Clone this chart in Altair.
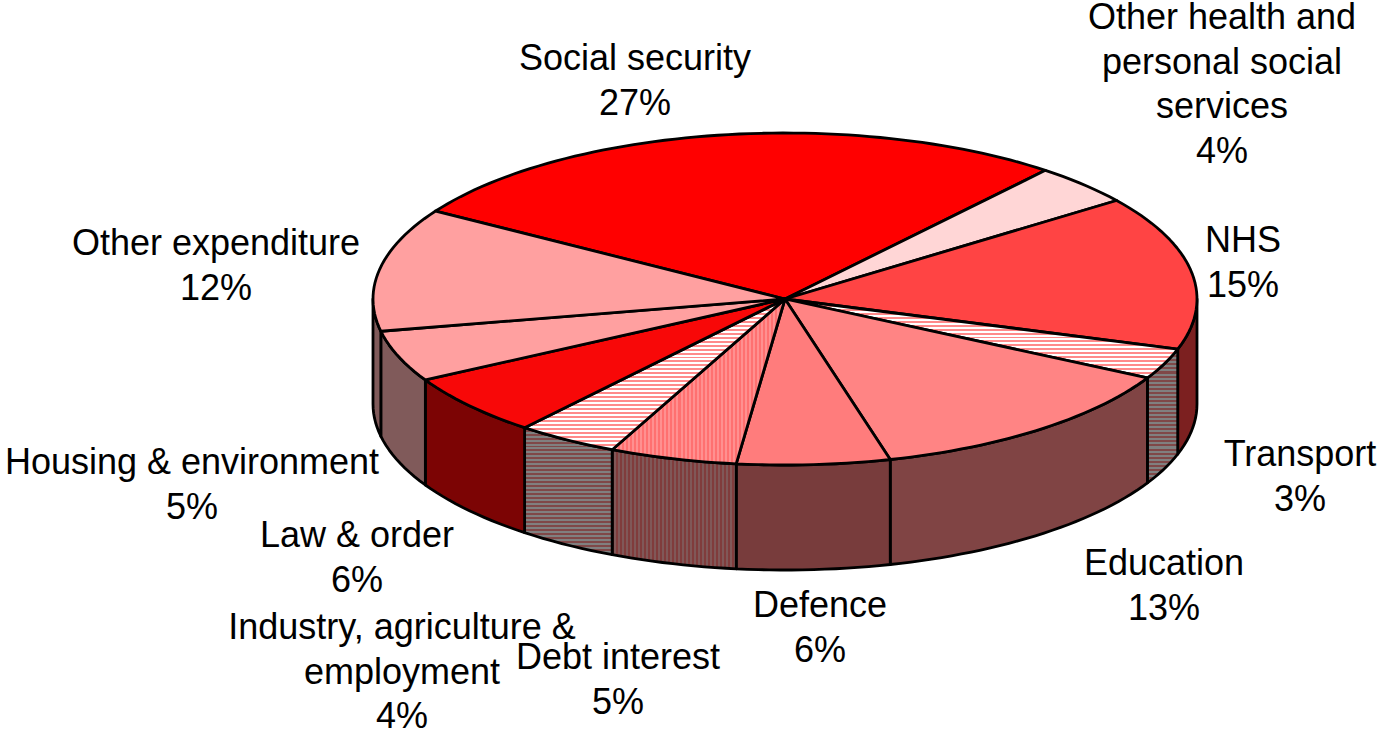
import math
import altair as alt

# Public spending shares, clockwise from the start of Social security
names = ["Social security", "Other health and personal social services", "NHS", "Transport",
         "Education", "Defence", "Debt interest", "Industry, agriculture & employment",
         "Law & order", "Housing & environment", "Other expenditure"]
shares = [27, 4, 15, 3, 13, 6, 5, 4, 6, 5, 12]

# Wrapped label text for each slice
label_lines = [["Social security", "27%"],
               ["Other health and", "personal social", "services", "4%"],
               ["NHS", "15%"],
               ["Transport", "3%"],
               ["Education", "13%"],
               ["Defence", "6%"],
               ["Debt interest", "5%"],
               ["Industry, agriculture &", "employment", "4%"],
               ["Law & order", "6%"],
               ["Housing & environment", "5%"],
               ["Other expenditure", "12%"]]

# Label placement (centre x, first baseline y)
label_x = [635, 1222, 1243, 1300, 1164, 820, 618, 402, 357, 192, 216]
label_y = [70, 29, 252, 466, 575, 617, 669, 639, 547, 474, 255]
LINE_STEP = 44.6
FONT = "Liberation Sans"
FONT_SIZE = 36

# Pie drawing: ellipse of the tilted disc, wall depth, first slice angle
CX, CY, RX, RY, DEPTH = 785, 299, 412, 166, 105
START_DEG = -58
STROKE = 2.8

# Slice styling: (kind, colour a, colour b); kind is flat, h or v striped
top_style = [("flat", "#ff0000", None), ("flat", "#ffd6d6", None), ("flat", "#ff4444", None),
             ("h", "#ffffff", "#ff8a8a"), ("flat", "#ff8484", None), ("flat", "#ff7c7c", None),
             ("v", "#ff9090", "#ff7070"), ("h", "#ffffff", "#ff8a8a"), ("flat", "#f80808", None),
             ("flat", "#ffa0a0", None), ("flat", "#ffa0a0", None)]
wall_style = [("flat", "#800000", None), ("flat", "#806a6a", None), ("flat", "#7c2020", None),
              ("h", "#808080", "#804848"), ("flat", "#804444", None), ("flat", "#783c3c", None),
              ("v", "#803c3c", "#805858"), ("h", "#808080", "#804848"), ("flat", "#7c0404", None),
              ("flat", "#805a5a", None), ("flat", "#805a5a", None)]
STRIPE_PX = 4


def rim(deg, drop=0.0):
    t = math.radians(deg)
    return [CX + RX * math.sin(t), CY - RY * math.cos(t) + drop]


def arc(a, b, drop=0.0):
    n = max(2, int(abs(b - a) / 1.5) + 1)
    return [rim(a + (b - a) * i / (n - 1), drop) for i in range(n)]


def feature(points):
    return {"type": "Feature", "properties": {},
            "geometry": {"type": "Polygon", "coordinates": [points + [points[0]]]}}


def paint(style, points):
    kind, a, b = style
    if kind == "flat":
        return a
    axis = 1 if kind == "h" else 0
    vals = [p[axis] for p in points]
    size = max(vals) - min(vals)
    n = max(1, round(size / STRIPE_PX))
    stops = []
    for i in range(n):
        for k, c in ((0, a), (0.5, a), (0.5, b), (1, b)):
            stops.append({"offset": (i + k) / n, "color": c})
    return {"gradient": "linear", "x1": 0, "y1": 0,
            "x2": 0 if kind == "h" else 1, "y2": 1 if kind == "h" else 0, "stops": stops}


def shape(points, style):
    return alt.Chart(alt.InlineData(values=[feature(points)])).mark_geoshape(
        fill=paint(style, points), stroke="#000000", strokeWidth=STROKE, strokeJoin="round"
    ).project(type="identity", scale=1, translate=[0, 0])


# Angular extent of each slice from its share
total = sum(shares)
edges = [START_DEG]
for s in shares:
    edges.append(edges[-1] + s / total * 360)

walls, tops = [], []
for i in range(len(shares)):
    a, b = edges[i], edges[i + 1]
    # The wall shows only on the near half of the disc (90 to 270 degrees)
    lo, hi = max(a, 90), min(b, 270)
    if lo < hi:
        upper = arc(lo, hi)
        lower = arc(hi, lo, DEPTH)
        walls.append(shape(upper + lower, wall_style[i]))
    tops.append(shape([[CX, CY]] + arc(a, b), top_style[i]))

label_rows = []
for i, lines in enumerate(label_lines):
    for j, line in enumerate(lines):
        label_rows.append({"t": line, "x": label_x[i], "y": label_y[i] + j * LINE_STEP})

labels = alt.Chart(alt.InlineData(values=label_rows)).mark_text(
    font=FONT, fontSize=FONT_SIZE, color="#000000", align="center", baseline="alphabetic"
).encode(
    x=alt.X("x:Q", scale=None, axis=None),
    y=alt.Y("y:Q", scale=None, axis=None),
    text="t:N",
)

chart = alt.layer(*walls, *tops, labels).properties(
    width=1381, height=732, padding=0, autosize=alt.AutoSizeParams(type="none"),
    background="#ffffff",
).configure_view(stroke=None)

chart.save("out.html", embed_options={"renderer": "svg", "actions": False})
